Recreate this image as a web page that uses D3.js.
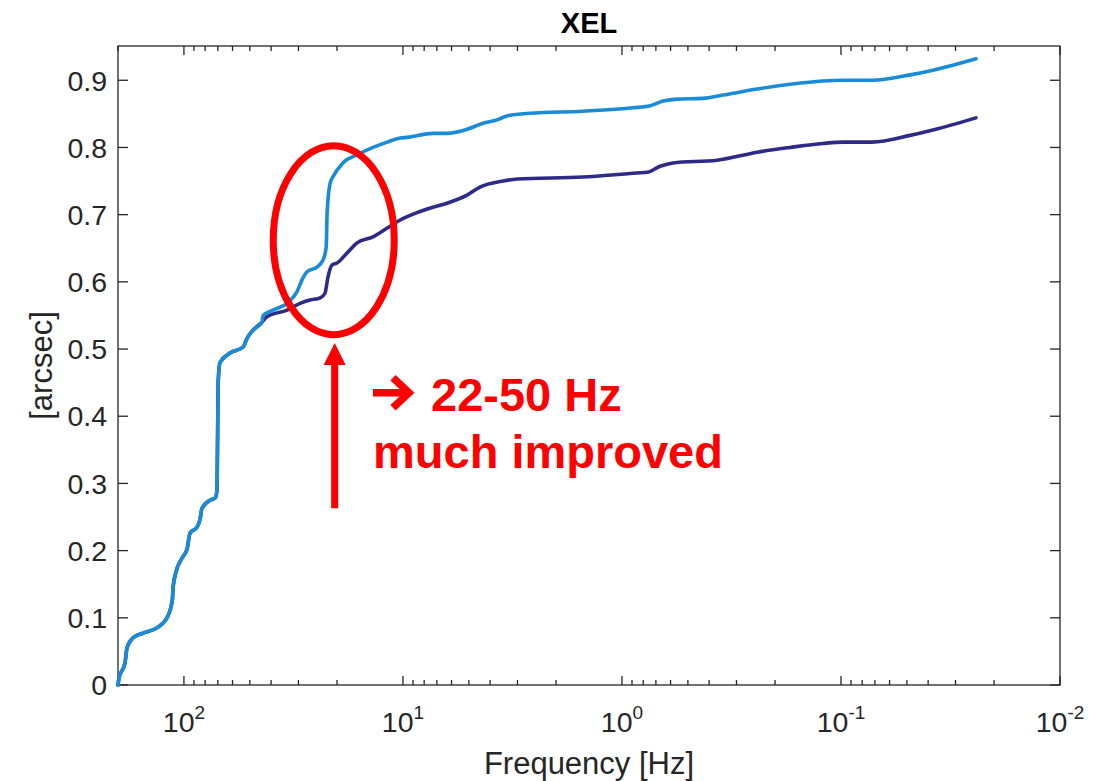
<!DOCTYPE html>
<html>
<head>
<meta charset="utf-8">
<script src="https://cdn.jsdelivr.net/npm/d3@7"></script>
<style>
  body { margin: 0; background: #fff; }
  svg { display: block; font-family: "Liberation Sans", Arial, Helvetica, sans-serif; }
</style>
</head>
<body>
<svg id="chart" width="1112" height="781"></svg>
<script>
// data: [frequency Hz, cumulative arcsec]
// both runs share the same path down to ~44 Hz
var shared = [[200,0],[198,0.01],[185.8,0.033],[182,0.055],[171,0.07],[154,0.077],[133,0.085],
  [119.5,0.1],[113,0.126],[112,0.146],[108.7,0.168],[102,0.189],[96.8,0.202],[93.8,0.226],
  [87.1,0.235],[84.5,0.246],[82.7,0.263],[76,0.275],[72.1,0.278],[70.6,0.29],[69.8,0.45],
  [68.4,0.48],[61.6,0.494],[53.7,0.503],[51.5,0.516],[48.4,0.528],[44,0.54]];

var before = [[43.5,0.55],[39.2,0.558],[33.8,0.568],[30.5,0.585],[28.9,0.603],[27.4,0.615],
  [24.7,0.622],[23.2,0.632],[22.4,0.652],[22.2,0.702],[21.5,0.747],[20.9,0.756],[18.8,0.777],
  [16.2,0.789],[13.7,0.80],[11.8,0.808],[10.3,0.814],[9.58,0.815],[7.29,0.821],[6.29,0.821],
  [5.10,0.827],[4.31,0.836],[3.72,0.841],[3.35,0.847],[2.63,0.851],[1.51,0.854],[0.889,0.859],
  [0.744,0.862],[0.649,0.869],[0.561,0.872],[0.427,0.873],[0.345,0.878],[0.241,0.887],
  [0.171,0.894],[0.121,0.899],[0.0977,0.90],[0.0721,0.90],[0.0483,0.908],[0.038,0.915],[0.0242,0.932]];

var after = [[41.8,0.548],[33.8,0.558],[29.5,0.568],[26.6,0.573],[23.9,0.576],[22.7,0.583],
  [22.0,0.607],[21.1,0.625],[20.0,0.628],[18.0,0.643],[16.2,0.658],[13.7,0.667],[11.8,0.680],
  [10.3,0.692],[8.63,0.703],[7.29,0.711],[6.29,0.717],[5.10,0.729],[4.45,0.741],[3.49,0.75],
  [3.01,0.753],[1.51,0.756],[0.853,0.762],[0.767,0.763],[0.670,0.772],[0.585,0.777],[0.368,0.781],
  [0.241,0.793],[0.171,0.80],[0.121,0.806],[0.0977,0.808],[0.0721,0.808],[0.0483,0.818],
  [0.038,0.826],[0.0242,0.844]];

var yTicks = [0,0.1,0.2,0.3,0.4,0.5,0.6,0.7,0.8,0.9];
var xDecades = [2,1,0,-1,-2];

var title = "XEL";
var xLabel = "Frequency [Hz]";
var yLabel = "[arcsec]";
var note = ["22-50 Hz", "much improved"];
// annotation anchors (data units)
var ringCenter = [20.7, 0.662];
var arrowFrom = [20.5, 0.263], arrowTo = [20.5, 0.509];
var notePos = [13.7, 0.408];

var svg = d3.select("#chart");
var W = 1112, H = 781;
var margin = {top: 46, right: 52, bottom: 96, left: 118};
var w = W - margin.left - margin.right;
var h = H - margin.top - margin.bottom;
var axisColor = "#262626";

var x = d3.scaleLog().domain([200, 0.01]).range([0, w]);
var y = d3.scaleLinear().domain([0, 0.951]).range([h, 0]);

var g = svg.append("g").attr("transform", "translate(" + margin.left + "," + margin.top + ")");

// box
g.append("rect").attr("width", w).attr("height", h)
  .attr("fill", "none").attr("stroke", axisColor).attr("stroke-width", 1.3);

// x ticks (major + minor), inward, top and bottom
var minor = [];
xDecades.forEach(function(e){
  for (var k = 2; k <= 9; k++) {
    var v = k * Math.pow(10, e);
    if (v <= 200 && v >= 0.01) minor.push(v);
  }
});
var majors = xDecades.map(function(e){ return Math.pow(10, e); });

function tickLines(vals, len) {
  g.append("g").selectAll("line").data(vals).join("line")
    .attr("x1", d => x(d)).attr("x2", d => x(d))
    .attr("y1", h).attr("y2", h - len)
    .attr("stroke", axisColor).attr("stroke-width", 1.3);
  g.append("g").selectAll("line").data(vals).join("line")
    .attr("x1", d => x(d)).attr("x2", d => x(d))
    .attr("y1", 0).attr("y2", len)
    .attr("stroke", axisColor).attr("stroke-width", 1.3);
}
tickLines(majors, 9);
tickLines(minor, 5);

// y ticks both sides
g.append("g").selectAll("line").data(yTicks).join("line")
  .attr("x1", 0).attr("x2", 10).attr("y1", d => y(d)).attr("y2", d => y(d))
  .attr("stroke", axisColor).attr("stroke-width", 1.3);
g.append("g").selectAll("line").data(yTicks).join("line")
  .attr("x1", w).attr("x2", w - 10).attr("y1", d => y(d)).attr("y2", d => y(d))
  .attr("stroke", axisColor).attr("stroke-width", 1.3);

// y tick labels
g.append("g").selectAll("text").data(yTicks).join("text")
  .attr("x", -11).attr("y", d => y(d)).attr("dy", "0.36em")
  .attr("text-anchor", "end").attr("font-size", 28.5).attr("fill", axisColor)
  .text(d => d === 0 ? "0" : d3.format(".1f")(d));

// x tick labels 10^n
var xl = g.append("g").selectAll("text").data(xDecades).join("text")
  .attr("x", d => x(Math.pow(10, d))).attr("y", h + 47)
  .attr("text-anchor", "middle").attr("font-size", 28.5).attr("fill", axisColor);
xl.append("tspan").text("10");
xl.append("tspan").attr("dy", -13).attr("font-size", 19).text(d => String(d));

// axis labels + title
g.append("text").attr("x", w / 2).attr("y", h + 89).attr("text-anchor", "middle")
  .attr("font-size", 31).attr("fill", axisColor).text(xLabel);
g.append("text").attr("transform", "translate(" + (-66) + "," + (h / 2) + ") rotate(-90)")
  .attr("text-anchor", "middle").attr("font-size", 31).attr("fill", axisColor).text(yLabel);
g.append("text").attr("x", w / 2).attr("y", -13).attr("text-anchor", "middle")
  .attr("font-size", 29).attr("font-weight", "bold").attr("fill", "#000").text(title);

// curves
var line = d3.line().x(d => x(d[0])).y(d => y(d[1])).curve(d3.curveMonotoneX);
var series = [
  {name: "after", pts: shared.concat(after), color: "#2e2a88"},
  {name: "before", pts: shared.concat(before), color: "#1a8bd7"}
];
g.append("g").selectAll("path").data(series).join("path")
  .attr("d", d => line(d.pts))
  .attr("fill", "none").attr("stroke", d => d.color)
  .attr("stroke-width", 3.6).attr("stroke-linejoin", "round").attr("stroke-linecap", "round");

// annotation
var red = "#ff0000";
g.append("ellipse").attr("cx", x(ringCenter[0])).attr("cy", y(ringCenter[1]))
  .attr("rx", 60.5).attr("ry", 94.5)
  .attr("fill", "none").attr("stroke", red).attr("stroke-width", 7);

var ax = x(arrowFrom[0]), ay0 = y(arrowFrom[1]), ay1 = y(arrowTo[1]);
g.append("line").attr("x1", ax).attr("x2", ax).attr("y1", ay0).attr("y2", ay1 + 20)
  .attr("stroke", red).attr("stroke-width", 7);
g.append("path")
  .attr("d", "M" + ax + "," + ay1 + "L" + (ax + 11) + "," + (ay1 + 22) + "L" + (ax - 11) + "," + (ay1 + 22) + "Z")
  .attr("fill", red);

// the bold "→" bullet before the note
var nx = x(notePos[0]), ny = y(notePos[1]);
g.append("path")
  .attr("d", "M" + nx + "," + (ny - 18) + "H" + (nx + 36) +
             "M" + (nx + 20) + "," + (ny - 33) + "L" + (nx + 36) + "," + (ny - 18) + "L" + (nx + 20) + "," + (ny - 3))
  .attr("fill", "none").attr("stroke", red).attr("stroke-width", 7.5).attr("stroke-linejoin", "miter");

var nt = g.append("text").attr("x", nx).attr("y", ny)
  .attr("font-size", 47).attr("font-weight", "bold").attr("fill", red);
nt.selectAll("tspan").data(note).join("tspan")
  .attr("x", (d, i) => i === 0 ? nx + 58 : nx).attr("dy", (d, i) => i === 0 ? 0 : 57)
  .text(d => d);
</script>
</body>
</html>
